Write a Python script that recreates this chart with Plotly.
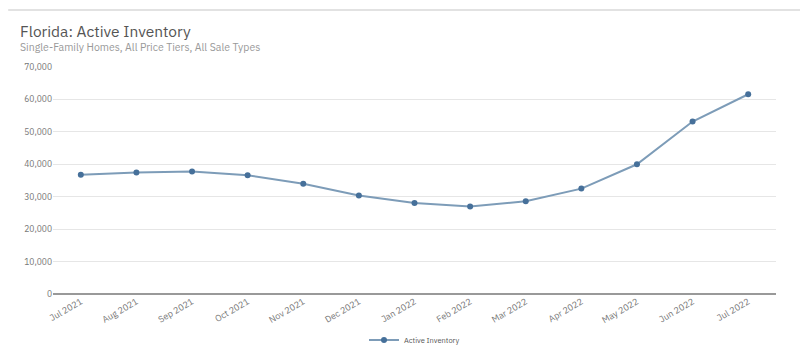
import plotly.graph_objects as go

months = ["Jul 2021", "Aug 2021", "Sep 2021", "Oct 2021", "Nov 2021", "Dec 2021",
          "Jan 2022", "Feb 2022", "Mar 2022", "Apr 2022", "May 2022", "Jun 2022", "Jul 2022"]
active_inventory = [36800, 37500, 37800, 36600, 34000, 30400,
                    28050, 27000, 28600, 32500, 40000, 53200, 61600]
y_ticks = [0, 10000, 20000, 30000, 40000, 50000, 60000, 70000]

FONT = "IBM Plex Sans, Noto Sans, sans-serif"

fig = go.Figure()
fig.add_trace(go.Scatter(
    x=months, y=active_inventory, mode="lines+markers", name="Active Inventory",
    line=dict(color="#7d9cb8", width=2),
    marker=dict(color="#46709a", size=6),
))

fig.update_layout(
    width=800, height=357,
    paper_bgcolor="white", plot_bgcolor="white",
    margin=dict(l=53, r=24, t=67, b=63, autoexpand=False),
    font=dict(family=FONT, color="#666"),
    showlegend=True,
    legend=dict(orientation="h", x=0.5, xanchor="center", y=-0.203, yanchor="middle",
                font=dict(size=7.5, color="#555")),
    xaxis=dict(type="category", range=[-0.5, 12.5], showgrid=False, automargin=False,
               tickangle=-30, tickfont=dict(size=9, color="#777"),
               showline=False, ticks=""),
    yaxis=dict(range=[0, 70000], tickvals=y_ticks, tickformat=",d", automargin=False,
               gridcolor="#e6e6e6", gridwidth=1, zeroline=True, zerolinecolor="#999",
               zerolinewidth=1.5, tickfont=dict(size=8.5, color="#777"),
               ticks="", ticklen=0),
    shapes=[dict(type="line", xref="paper", yref="paper", x0=-0.062, x1=1.04,
                 y0=1.251, y1=1.251, line=dict(color="#d8d8d8", width=1.5))],
    annotations=[
        dict(text="Florida: Active Inventory", xref="paper", yref="paper",
             x=-0.049, y=1.159, xanchor="left", yanchor="middle", showarrow=False,
             font=dict(size=15.5, color="#555", family=FONT)),
        dict(text="Single-Family Homes, All Price Tiers, All Sale Types", xref="paper", yref="paper",
             x=-0.049, y=1.088, xanchor="left", yanchor="middle", showarrow=False,
             font=dict(size=10.5, color="#999", family=FONT)),
    ],
)

fig.write_html("out.html", config={"displayModeBar": False},
               post_script="document.body.style.margin='0';document.body.style.overflow='hidden';")
